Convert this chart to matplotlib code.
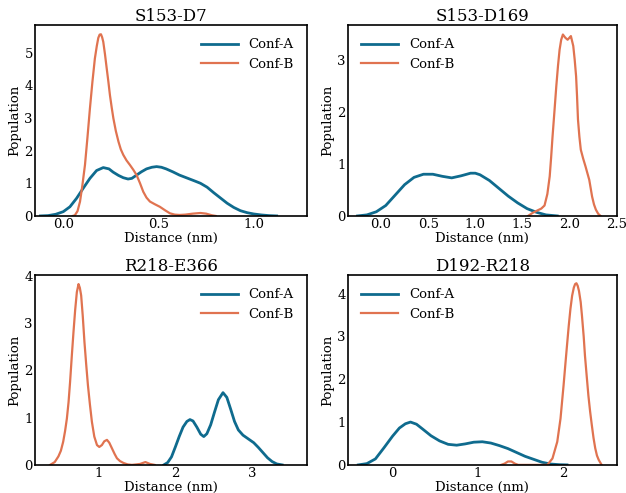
import matplotlib
matplotlib.use("Agg")
import matplotlib.pyplot as plt

plt.rcParams['font.family'] = ['DejaVu Serif']

titles = ["S153-D7", "S153-D169", "R218-E366", "D192-R218"]

# Panel 1: S153-D7
p1_a_x = [-0.12, -0.08, -0.04, 0.0, 0.035, 0.07, 0.105, 0.14, 0.175, 0.21, 0.24, 0.262, 0.29, 0.315, 0.34, 0.36, 0.385, 0.41, 0.437, 0.465, 0.49, 0.515, 0.54, 0.575, 0.61, 0.65, 0.69, 0.72, 0.755, 0.79, 0.825, 0.86, 0.895, 0.93, 0.965, 1.0, 1.04, 1.08, 1.12]
p1_a_y = [0.0, 0.01, 0.05, 0.13, 0.28, 0.54, 0.85, 1.15, 1.39, 1.48, 1.44, 1.34, 1.24, 1.17, 1.13, 1.15, 1.25, 1.35, 1.44, 1.49, 1.51, 1.49, 1.44, 1.35, 1.25, 1.16, 1.07, 1.0, 0.88, 0.71, 0.55, 0.39, 0.26, 0.16, 0.1, 0.06, 0.03, 0.01, 0.0]
p1_b_x = [0.05, 0.061, 0.075, 0.088, 0.10, 0.114, 0.127, 0.14, 0.153, 0.166, 0.176, 0.184, 0.191, 0.198, 0.204, 0.21, 0.219, 0.228, 0.237, 0.245, 0.254, 0.263, 0.276, 0.29, 0.302, 0.315, 0.332, 0.35, 0.368, 0.385, 0.403, 0.42, 0.437, 0.455, 0.48, 0.507, 0.535, 0.56, 0.585, 0.61, 0.64, 0.68, 0.72, 0.75, 0.78, 0.80]
p1_b_y = [0.0, 0.02, 0.15, 0.44, 0.92, 1.56, 2.4, 3.29, 4.1, 4.82, 5.2, 5.45, 5.55, 5.56, 5.47, 5.33, 4.95, 4.52, 4.1, 3.7, 3.33, 2.99, 2.6, 2.27, 2.04, 1.87, 1.7, 1.56, 1.41, 1.25, 1.0, 0.74, 0.56, 0.44, 0.36, 0.28, 0.17, 0.08, 0.04, 0.03, 0.04, 0.07, 0.09, 0.07, 0.02, 0.0]

# Panel 2: S153-D169
p2_a_x = [-0.25, -0.15, -0.05, 0.05, 0.15, 0.25, 0.35, 0.45, 0.55, 0.65, 0.75, 0.85, 0.95, 1.0, 1.05, 1.15, 1.25, 1.35, 1.45, 1.55, 1.65, 1.75, 1.87]
p2_a_y = [0.0, 0.02, 0.08, 0.2, 0.4, 0.6, 0.74, 0.8, 0.8, 0.76, 0.73, 0.77, 0.82, 0.82, 0.79, 0.68, 0.53, 0.38, 0.25, 0.14, 0.07, 0.02, 0.0]
p2_b_x = [1.56, 1.61, 1.665, 1.70, 1.735, 1.765, 1.79, 1.805, 1.82, 1.84, 1.86, 1.878, 1.895, 1.912, 1.93, 1.955, 1.98, 2.0, 2.015, 2.04, 2.055, 2.07, 2.08, 2.09, 2.105, 2.12, 2.145, 2.17, 2.19, 2.21, 2.225, 2.24, 2.26, 2.28, 2.305, 2.33]
p2_b_y = [0.0, 0.06, 0.11, 0.14, 0.2, 0.42, 0.76, 1.12, 1.52, 2.0, 2.49, 2.88, 3.19, 3.38, 3.48, 3.42, 3.38, 3.42, 3.45, 3.26, 3.0, 2.68, 2.3, 1.85, 1.52, 1.27, 1.1, 0.95, 0.82, 0.69, 0.53, 0.37, 0.22, 0.12, 0.04, 0.0]

# Panel 3: R218-E366
p3_a_x = [1.85, 1.90, 1.95, 2.00, 2.05, 2.10, 2.15, 2.19, 2.23, 2.28, 2.33, 2.37, 2.41, 2.46, 2.51, 2.56, 2.62, 2.67, 2.72, 2.77, 2.82, 2.88, 2.95, 3.02, 3.08, 3.14, 3.20, 3.26, 3.32, 3.39]
p3_a_y = [0.0, 0.05, 0.17, 0.38, 0.6, 0.8, 0.92, 0.96, 0.93, 0.8, 0.65, 0.6, 0.66, 0.85, 1.12, 1.38, 1.53, 1.43, 1.18, 0.92, 0.74, 0.63, 0.55, 0.47, 0.37, 0.26, 0.15, 0.07, 0.02, 0.0]
p3_b_x = [0.37, 0.43, 0.478, 0.51, 0.54, 0.565, 0.588, 0.61, 0.63, 0.652, 0.674, 0.696, 0.718, 0.74, 0.757, 0.774, 0.795, 0.817, 0.84, 0.862, 0.888, 0.914, 0.945, 0.98, 1.01, 1.044, 1.075, 1.11, 1.14, 1.175, 1.21, 1.24, 1.28, 1.326, 1.38, 1.435, 1.49, 1.54, 1.61, 1.67, 1.73]
p3_b_y = [0.0, 0.06, 0.18, 0.3, 0.49, 0.72, 0.98, 1.33, 1.76, 2.3, 2.81, 3.28, 3.66, 3.83, 3.75, 3.59, 3.15, 2.6, 2.12, 1.69, 1.28, 0.91, 0.6, 0.42, 0.38, 0.42, 0.5, 0.53, 0.47, 0.35, 0.23, 0.14, 0.08, 0.04, 0.01, 0.0, 0.01, 0.02, 0.06, 0.02, 0.0]

# Panel 4: D192-R218
p4_a_x = [-0.40, -0.30, -0.20, -0.10, 0.0, 0.08, 0.15, 0.21, 0.28, 0.35, 0.45, 0.55, 0.65, 0.75, 0.85, 0.95, 1.05, 1.15, 1.25, 1.35, 1.45, 1.55, 1.65, 1.75, 1.85, 1.95, 2.04]
p4_a_y = [0.0, 0.03, 0.14, 0.40, 0.67, 0.86, 0.96, 1.0, 0.95, 0.84, 0.68, 0.56, 0.48, 0.46, 0.49, 0.53, 0.54, 0.51, 0.45, 0.38, 0.29, 0.2, 0.13, 0.06, 0.02, 0.005, 0.0]
p4_b_x = [1.27, 1.31, 1.35, 1.39, 1.43, 1.47, 1.75, 1.81, 1.87, 1.926, 1.964, 2.0, 2.02, 2.04, 2.06, 2.08, 2.10, 2.12, 2.135, 2.15, 2.165, 2.18, 2.20, 2.215, 2.235, 2.25, 2.27, 2.29, 2.31, 2.33, 2.35, 2.37, 2.39, 2.41, 2.445]
p4_b_y = [0.0, 0.03, 0.08, 0.08, 0.03, 0.0, 0.0, 0.0, 0.15, 0.54, 1.08, 1.86, 2.33, 2.79, 3.24, 3.64, 3.95, 4.14, 4.22, 4.24, 4.18, 4.06, 3.8, 3.48, 3.0, 2.55, 2.08, 1.62, 1.25, 0.93, 0.63, 0.39, 0.22, 0.12, 0.0]

xlims = [(-0.148, 1.278), (-0.35, 2.49), (0.174, 3.71), (-0.52, 2.62)]
ylims = [(0, 5.84), (0, 3.66), (0, 4.02), (0, 4.43)]
xticks = [[0.0, 0.5, 1.0], [0.0, 0.5, 1.0, 1.5, 2.0, 2.5], [1, 2, 3], [0, 1, 2]]
xticklabels = [["0.0", "0.5", "1.0"], ["0.0", "0.5", "1.0", "1.5", "2.0", "2.5"], ["1", "2", "3"], ["0", "1", "2"]]
yticks = [[0, 1, 2, 3, 4, 5], [0, 1, 2, 3], [0, 1, 2, 3, 4], [0, 1, 2, 3, 4]]
legend_locs = ["upper right", "upper left", "upper right", "upper left"]

data = [(p1_a_x, p1_a_y, p1_b_x, p1_b_y),
        (p2_a_x, p2_a_y, p2_b_x, p2_b_y),
        (p3_a_x, p3_a_y, p3_b_x, p3_b_y),
        (p4_a_x, p4_a_y, p4_b_x, p4_b_y)]

blue = "#0f6b8e"
orange = "#e07350"

fig = plt.figure(figsize=(6.26, 4.93), dpi=100)
positions = [
    [0.056, 0.562, 0.434, 0.387],
    [0.556, 0.562, 0.429, 0.387],
    [0.056, 0.057, 0.434, 0.385],
    [0.556, 0.057, 0.429, 0.385],
]

for i in range(4):
    ax = fig.add_axes(positions[i])
    ax_x, ax_y, bx, by = data[i]
    ax.plot(ax_x, ax_y, color=blue, lw=2.0, label="Conf-A", solid_joinstyle="round")
    ax.plot(bx, by, color=orange, lw=1.6, label="Conf-B", solid_joinstyle="round")
    ax.set_xlim(*xlims[i])
    ax.set_ylim(*ylims[i])
    ax.set_xticks(xticks[i])
    ax.set_xticklabels(xticklabels[i])
    ax.set_yticks(yticks[i])
    ax.tick_params(length=0, labelsize=9.5, pad=1.5)
    ax.set_title(titles[i], fontsize=12, pad=3)
    ax.set_xlabel("Distance (nm)", fontsize=9.5, labelpad=1)
    ax.set_ylabel("Population", fontsize=9.5, labelpad=2)
    for s in ax.spines.values():
        s.set_linewidth(1.2)
    ax.legend(loc=legend_locs[i], frameon=False, fontsize=9.5, handlelength=2.8, borderaxespad=0.6)

fig.savefig("out.png", dpi=100)
